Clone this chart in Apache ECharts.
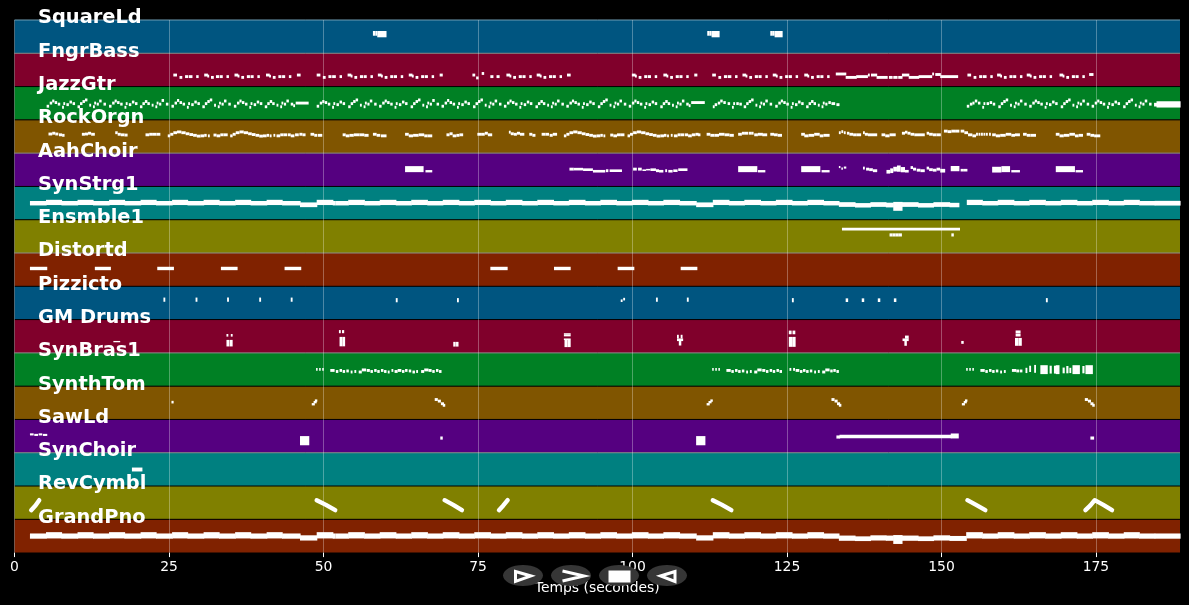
<!DOCTYPE html>
<html>
<head>
<meta charset="utf-8">
<style>html,body{margin:0;background:#000;}#chart{width:1189px;height:605px;}</style>
<script src="https://cdn.jsdelivr.net/npm/echarts@6/dist/echarts.min.js"></script>
</head>
<body>
<div id="chart"></div>
<script>
// piano roll: one note = [start (s), length (s), pitch (0-127 inside its row), thickness in pitch units (optional)]
const trackNames = ['SquareLd','FngrBass','JazzGtr','RockOrgn','AahChoir','SynStrg1','Ensmble1','Distortd','Pizzicto','GM Drums','SynBras1','SynthTom','SawLd','SynChoir','RevCymbl','GrandPno'];
const xTicks = [0,25,50,75,100,125,150,175];
const xMax = 188.6;

const squareLd = [[58,.3,76,18],[58.4,.2,76,18],[58.7,1.4,73,24],[112.1,.3,76,18],[112.5,.2,76,18],[112.8,1.2,73,24],[122.3,.2,76,18],[122.6,.3,76,18],[123,1.2,73,24]];

const fngrBass = [
[25.7,.5,44],[26.7,.35,35],[27.6,.4,38],[28.2,.5,38],[29.4,.3,38],
[30.7,.5,44],[31.2,.2,40],[31.8,.35,35],[32.6,.4,38],[33.2,.4,38],[34.3,.3,38],
[35.6,.5,44],[36.1,.2,40],[36.7,.35,35],[37.6,.4,38],[38.2,.4,38],[39.3,.3,38],
[40.7,.5,44],[41.2,.2,40],[41.8,.35,35],[42.7,.4,38],[43.3,.4,38],[44.4,.3,38],
[45.7,.5,44],
[48.9,.5,44],[49.9,.35,35],[50.8,.4,38],[51.4,.5,38],[52.6,.3,38],
[53.9,.5,44],[54.4,.2,40],[55,.35,35],[55.9,.4,38],[56.5,.4,38],[57.6,.3,38],
[58.8,.5,44],[59.3,.2,40],[59.9,.35,35],[60.8,.4,38],[61.4,.4,38],[62.5,.3,38],
[63.8,.5,44],[64.3,.2,40],[64.9,.35,35],[65.8,.4,38],[66.4,.4,38],[67.5,.3,38],
[68.8,.4,44],
[74.1,.35,44],[74.7,.3,33],[75.6,.3,50],[77,.4,38],[78,.4,38],
[79.6,.5,44],[80.1,.2,40],[80.7,.35,35],[81.6,.4,38],[82.2,.4,38],[83.3,.3,38],
[84.5,.5,44],[85,.2,40],[85.6,.35,35],[86.5,.4,38],[87.1,.4,38],[88.2,.3,38],
[89.4,.5,44],
[99.9,.5,44],[100.4,.2,40],[101,.35,35],[101.9,.4,38],[102.5,.4,38],[103.6,.3,38],
[105,.5,44],[105.5,.2,40],[106.1,.35,35],[107,.4,38],[107.6,.4,38],[108.7,.3,38],
[110,.4,44],
[112.9,.5,44],[113.9,.35,35],[114.8,.4,38],[115.4,.5,38],[116.6,.3,38],
[117.8,.5,44],[118.3,.2,40],[118.9,.35,35],[119.8,.4,38],[120.4,.4,38],[121.5,.3,38],
[122.7,.5,44],[123.2,.2,40],[123.8,.35,35],[124.7,.4,38],[125.3,.4,38],[126.4,.3,38],
[127.8,.5,44],[128.3,.2,40],[128.9,.35,35],[129.8,.4,38],[130.4,.4,38],[131.5,.3,38],
[132.9,1.6,48],[134.5,1.7,35],[136.2,1.8,38],[138.1,.2,44],[138.6,.9,44],[139.5,1.7,35],[141.5,.5,35],[142.2,.6,35],[143,.6,35],
[143.6,1.1,44],[144.7,1.6,35],[146.3,2.1,38],[148.5,.2,48],[149,.8,46],[149.8,2.8,38],
[154.2,.5,44],[155.2,.35,35],[156.1,.4,38],[156.7,.5,38],[157.9,.3,38],
[159,.5,44],[159.5,.2,40],[160.1,.35,35],[161,.4,38],[161.6,.4,38],[162.7,.3,38],
[163.8,.5,44],[164.3,.2,40],[164.9,.35,35],[165.8,.4,38],[166.4,.4,38],[167.5,.3,38],
[169.1,.5,44],[169.6,.2,40],[170.2,.35,35],[171.1,.4,38],[171.7,.4,38],[172.8,.3,38],
[173.9,.6,46]];

const jazzGtr = [
[5.2,.3,52],[5.7,.3,64],[6.1,.25,72],[6.5,.3,66],[7,.3,60],[7.7,.2,48],[7.9,.2,62],[8.4,.3,58],[8.9,.3,68],[9.4,.3,62],
[10.2,.3,50],[10.6,.3,62],[11,.3,70],[11.4,.3,76],[12.1,.2,56],[12.7,.2,50],[12.9,.2,64],[13.3,.25,60],[13.7,.3,72],[14.4,.3,60],
[15.3,.3,52],[15.8,.3,64],[16.2,.25,72],[16.6,.3,66],[17.1,.3,60],[17.8,.2,48],[18,.2,62],[18.5,.3,58],[19,.3,68],[19.5,.3,62],
[20.3,.3,50],[20.7,.3,62],[21.1,.3,70],[21.5,.3,62],[22.2,.2,56],[22.8,.2,50],[23,.2,64],[23.4,.25,60],[23.8,.3,74],[24.5,.3,60],
[25.4,.3,52],[25.9,.3,64],[26.3,.25,74],[26.7,.3,66],[27.2,.3,60],[27.9,.2,48],[28.1,.2,62],[28.6,.3,58],[29.1,.3,68],[29.6,.3,62],
[30.4,.3,50],[30.8,.3,62],[31.2,.3,70],[31.6,.3,76],[32.3,.2,56],[32.9,.2,50],[33.1,.2,64],[33.5,.25,60],[33.9,.3,72],[34.6,.3,60],
[35.5,.3,52],[36,.3,64],[36.4,.25,72],[36.8,.3,66],[37.3,.3,60],[38,.2,48],[38.2,.2,62],[38.7,.3,58],[39.2,.3,68],[39.7,.3,62],
[40.5,.3,50],[40.9,.3,62],[41.3,.3,70],[41.7,.3,62],[42.4,.2,56],[43,.2,50],[43.2,.2,64],[43.6,.25,60],[44,.3,72],[44.7,.3,60],[45.1,.2,54],[45.5,2,64],
[48.9,.3,52],[49.4,.3,64],[49.8,.25,70],[50.2,.3,66],[50.7,.3,60],[51.4,.2,48],[51.6,.2,62],[52.1,.3,58],[52.6,.3,68],[53.1,.3,62],
[54,.3,50],[54.4,.3,62],[54.8,.3,70],[55.2,.3,76],[55.9,.2,56],[56.5,.2,50],[56.7,.2,64],[57.1,.25,60],[57.5,.3,72],[58.2,.3,60],
[59,.3,52],[59.5,.3,64],[59.9,.25,72],[60.3,.3,66],[60.8,.3,60],[61.5,.2,48],[61.7,.2,62],[62.2,.3,58],[62.7,.3,68],[63.2,.3,62],
[64.1,.3,50],[64.5,.3,62],[64.9,.3,70],[65.3,.3,76],[66,.2,56],[66.6,.2,50],[66.8,.2,64],[67.2,.25,60],[67.6,.3,74],[68.3,.3,60],
[69.1,.3,52],[69.6,.3,64],[70,.25,74],[70.4,.3,66],[70.9,.3,60],[71.6,.2,48],[71.8,.2,62],[72.3,.3,58],[72.8,.3,68],[73.3,.3,62],
[74.2,.3,50],[74.6,.3,62],[75,.3,70],[75.4,.3,76],[76.1,.2,56],[76.7,.2,50],[76.9,.2,64],[77.3,.25,60],[77.7,.3,72],[78.4,.3,60],
[79.2,.3,52],[79.7,.3,64],[80.1,.25,72],[80.5,.3,66],[81,.3,60],[81.7,.2,48],[81.9,.2,62],[82.4,.3,58],[82.9,.3,68],[83.4,.3,62],
[84.3,.3,50],[84.7,.3,62],[85.1,.3,70],[85.5,.3,62],[86.2,.2,56],[86.8,.2,50],[87,.2,64],[87.4,.25,60],[87.8,.3,72],[88.5,.3,60],
[89.3,.3,52],[89.8,.3,64],[90.2,.25,72],[90.6,.3,66],[91.1,.3,60],[91.8,.2,48],[92,.2,62],[92.5,.3,58],[93,.3,68],[93.5,.3,62],
[94.4,.3,50],[94.8,.3,62],[95.2,.3,70],[95.6,.3,76],[96.3,.2,56],[96.9,.2,50],[97.1,.2,64],[97.5,.25,60],[97.9,.3,72],[98.6,.3,60],
[99.4,.3,52],[99.9,.3,64],[100.3,.25,72],[100.7,.3,66],[101.2,.3,60],[101.9,.2,48],[102.1,.2,62],[102.6,.3,58],[103.1,.3,68],[103.6,.3,62],
[104.5,.3,50],[104.9,.3,62],[105.3,.3,70],[105.7,.3,62],[106.4,.2,56],[107,.2,50],[107.2,.2,64],[107.6,.25,60],[108,.3,72],[108.7,.3,60],[109.1,.2,54],[109.5,2.1,66],
[113,.2,50],[113.3,.3,58],[113.8,.3,64],[114.2,.3,72],[114.7,.3,66],[115.4,.3,62],[116.1,.2,48],[116.3,.2,62],[116.8,.3,62],[117.3,.3,60],
[118,.3,50],[118.4,.3,62],[118.8,.3,70],[119.2,.3,76],[119.9,.2,56],[120.5,.2,50],[120.7,.2,64],[121.1,.25,60],[121.5,.3,72],[122.2,.3,60],
[123.1,.3,52],[123.6,.3,64],[124,.25,72],[124.4,.3,66],[124.9,.3,60],[125.6,.2,48],[125.8,.2,62],[126.3,.3,58],[126.8,.3,68],[127.3,.3,62],
[128.1,.3,50],[128.5,.3,62],[128.9,.3,70],[129.3,.3,62],[130,.2,56],[130.6,.2,50],[130.8,.2,64],[131.2,.25,60],[131.7,.3,66],[132.2,.5,62],[133,.4,58],
[154.1,.3,52],[154.6,.3,60],[155,.25,64],[155.4,.3,72],[155.9,.3,64],[156.6,.2,48],[156.8,.2,62],[157.3,.3,62],[157.8,.3,66],[158.3,.3,60],
[159.2,.3,50],[159.6,.3,62],[160,.3,70],[160.4,.3,76],[161.1,.2,56],[161.7,.2,50],[161.9,.2,64],[162.3,.25,60],[162.7,.3,72],[163.4,.3,60],
[164.2,.3,52],[164.7,.3,64],[165.1,.25,72],[165.5,.3,66],[166,.3,60],[166.7,.2,48],[166.9,.2,62],[167.4,.3,58],[167.9,.3,68],[168.4,.3,62],
[169.3,.3,50],[169.7,.3,62],[170.1,.3,70],[170.5,.3,76],[171.2,.2,56],[171.8,.2,50],[172,.2,64],[172.4,.25,60],[172.8,.3,72],[173.5,.3,60],
[174.3,.3,52],[174.8,.3,64],[175.2,.25,72],[175.6,.3,66],[176.1,.3,60],[176.8,.2,48],[177,.2,62],[177.5,.3,58],[178,.3,68],[178.5,.3,62],
[179.4,.3,50],[179.8,.3,62],[180.2,.3,70],[180.6,.3,76],[181.3,.2,56],[181.9,.2,50],[182.1,.2,64],[182.5,.25,60],[182.9,.3,72],[183.6,.3,60],
[184.4,.4,58,14],[184.8,3.8,59,24]];

const rockOrgn = [
[5.5,.5,73],[6.1,.4,76],[6.6,.4,73],[7.2,.4,70],[7.7,.3,68],[10.9,.4,72],[11.4,.4,73],[11.9,.4,76],[12.4,.5,72],
[16.3,.3,78],[16.7,.4,72],[17.2,.5,70],[17.8,.4,69],[21.2,.5,70],[21.8,.5,72],[22.4,.5,72],[23,.5,72],
[24.8,.3,66],[25.2,.4,72],[25.7,.5,78],[26.3,.6,81],[27,.6,78],[27.7,.5,74],[28.3,.5,71],[28.9,.5,68],[29.5,.5,65],[30.1,.5,66],[30.7,.3,68],[31.3,.2,66],
[32.2,.4,69],[32.7,.5,66],[33.3,.4,70],[33.8,.6,70],
[34.9,.3,66],[35.3,.4,72],[35.8,.5,78],[36.4,.6,81],[37.1,.6,78],[37.8,.5,74],[38.4,.5,71],[39,.5,68],[39.6,.5,65],[40.2,.5,66],[40.8,.3,68],[41.3,.2,66],
[41.9,.2,68],[42.4,.5,66],[43,.4,70],[43.5,.5,70],[44.2,.4,70],[44.7,.5,66],[45.4,.5,70],[46.1,.4,72],[46.6,.4,70],[47.9,.5,72],[48.5,.4,68],[49.1,.6,68],
[53.1,.4,70],[53.6,.5,66],[54.2,.6,68],[54.9,.8,70],[55.8,.7,70],[56.6,.6,68],[58,.5,72],[58.6,.5,68],[59.3,.8,66],
[63.2,.5,72],[63.8,.6,66],[64.5,.8,68],[65.4,.8,70],[66.3,.4,66],[66.8,.7,66],[69.9,.4,70],[70.4,.4,74],[70.9,.5,66],[71.5,.4,68],[72,.5,70],
[74.9,.5,72],[75.5,.5,72],[76.1,.4,76],[76.6,.6,70],[80,.2,80],[80.3,.4,74],[80.8,.4,72],[81.3,.4,76],[81.8,.6,72],[83.3,.4,72],[83.8,.4,68],
[85.3,.5,72],[85.9,.5,72],[86.6,.4,68],[87.1,.6,72],
[88.9,.3,66],[89.3,.4,72],[89.8,.5,78],[90.4,.6,81],[91.1,.6,78],[91.8,.5,74],[92.4,.5,71],[93,.5,68],[93.6,.5,65],[94.2,.5,66],[94.8,.3,68],[95.3,.2,66],
[96.4,.4,69],[96.9,.5,66],[97.5,.4,70],[98,.6,70],
[99.2,.3,66],[99.6,.4,72],[100.1,.5,78],[100.7,.6,81],[101.4,.6,78],[102.1,.5,74],[102.7,.5,71],[103.3,.5,68],[103.9,.5,65],[104.5,.5,66],[105.1,.3,68],[105.6,.2,66],
[106.2,.2,68],[106.7,.5,66],[107.3,.4,70],[107.8,.5,70],[108.5,.4,70],[109,.5,66],[109.6,.5,70],[110.2,.4,72],[110.6,.3,70],
[112,.5,72],[112.6,.6,68],[113.3,.6,68],[114,.8,72],[114.9,.7,70],[115.7,.6,68],
[117.1,.5,72],[117.7,.4,76],[118.2,.4,76],[118.8,.3,76],[119.2,.3,76],[119.7,.5,70],[120.3,.7,72],[121,.7,70],[122.3,.5,72],[122.9,.5,70],[123.5,.6,68],
[127.3,.5,72],[127.8,.6,66],[128.5,.8,68],[129.4,.8,72],[130.3,.5,66],[130.9,.9,68],
[133.4,.2,78],[133.8,.2,82],[134.2,.2,78],[134.7,.3,76],[135.1,.5,72],[135.7,.5,70],[136.3,.6,70],[137.3,.2,78],[137.6,.4,72],[138.1,.4,70],[138.6,.9,70],
[140.3,.5,70],[140.9,.6,66],[141.6,.9,70],[143.6,.4,76],[144.1,.3,80],[144.5,.4,76],[145,.5,72],[145.6,.5,70],[146.2,1,70],
[147.6,.3,76],[148,.5,72],[148.6,.5,70],[149.2,.6,70],
[150.4,.5,84],[151,.5,82],[151.6,.5,84],[152.2,.6,84],[153.1,.5,84],[153.7,.5,78],[154.3,.6,70],[155,.5,66],[155.6,.2,72],[156,.2,72],[156.4,.2,72],[156.8,.2,72],
[157.2,.2,72],[157.7,.2,72],[158.2,.5,70],[158.8,.6,66],[159.5,.8,68],[160.4,.8,72],[161.3,.5,68],[161.9,.7,70],
[163.2,.5,72],[163.8,.5,68],[164.4,.8,68],[168.5,.5,72],[169.1,.6,66],[169.8,.8,68],[170.7,.8,72],[171.6,.5,66],[172.2,.6,68],[173.5,.5,72],[174.1,.5,68],[174.7,.9,66]];

const aahChoir = [
[63.2,2.9,66,23],[66.5,1,58,9],
[89.8,.6,66],[90.5,1.4,66,10],[92,1.5,64,10],[93.6,1.9,58,10],[95.7,.3,60],[96.3,1.9,60,10],
[100.1,.5,66],[100.9,.5,66],[101.6,.5,62,6],[102.2,.6,64,6],[102.9,.8,64,10],[103.8,.4,60],[104.3,.6,58,10],[105.3,.2,60],[105.8,.6,58,10],[106.6,.6,60,10],[107.4,1.4,64,10],
[117.1,3,66,23],[120.3,1.1,58,9],
[127.3,3,66,23],[130.6,1.2,58,9],
[133.4,.15,74,8],[133.8,.15,68,8],[134.2,.3,72,8],[137.3,.2,70],[137.8,.4,66],[138.3,.5,64],[138.9,.6,60],
[141.1,.5,56,14],[141.7,.4,60,18],[142.2,.5,66,18],[142.8,.5,68,24],[143.4,.6,64,20],[144.1,.5,58,10],[145,.3,72],[145.4,.4,66],[146,.5,62],[146.6,.6,60],
[147.6,.3,70],[148,.5,64],[148.6,.5,62],[149.2,.5,66],[149.8,.7,60,14],
[151.5,1.3,68,20],[153.1,.3,62,10],[153.5,.6,62,10],
[158.2,1.4,64,22],[159.7,1.3,66,23],[161.3,1.3,58,9],
[168.5,3,66,23],[171.7,1.1,58,9]];

// same phrase heights for strings and piano, read row-relative
const synStrg1 = [
[2.5,2.6,63,17],[5.1,2.5,66,20],[7.6,2.6,63,17],[10.2,2.5,66,20],[12.7,2.6,63,17],[15.3,2.5,66,20],[17.8,2.6,63,17],[20.4,2.5,66,20],[22.9,2.6,63,17],[25.5,2.5,66,20],[28,2.6,63,17],[30.6,2.5,66,20],[33.1,2.6,63,17],[35.7,2.5,66,20],[38.2,2.6,63,17],[40.8,2.5,66,20],[43.3,2.9,63,17],
[46.2,2.7,57,18],[48.9,2.6,66,20],[51.5,.4,63,17],[52,2,63,17],[54,2.6,66,20],[56.6,2.5,63,17],[59.1,2.6,66,20],[61.7,2.5,63,17],[64.2,2.6,66,20],[66.8,2.5,63,17],[69.3,2.6,66,20],[71.9,2.5,63,17],[74.4,2.6,66,20],[77,2.5,63,17],[79.5,2.6,66,20],[82.1,2.5,63,17],[84.6,2.6,66,20],[87.2,2.5,63,17],[89.7,2.6,66,20],[92.3,2.5,63,17],[94.8,2.6,66,20],[97.4,2.5,63,17],[99.9,2.6,66,20],[102.5,2.5,63,17],[105,2.6,66,20],[107.6,2.7,63,17],
[110.3,2.7,57,18],[113,2.6,66,20],[115.6,2.5,63,17],[118.1,2.6,66,20],[120.7,2.5,63,17],[123.2,2.6,66,20],[125.8,2.5,63,17],[128.3,2.6,66,20],[130.9,2.5,63,17],
[133.4,2.6,58,18],[136,2.5,55,17],[138.5,2.5,58,18],[141,1.2,56,18],[142.2,1.4,51,34],[143.6,2.6,58,18],[146.2,2.5,55,17],[148.7,2.6,58,18],[151.3,1.5,56,17],
[154.1,2.5,66,20],[156.6,2.5,63,17],[159.1,2.6,66,20],[161.7,2.5,63,17],[164.2,2.6,66,20],[166.8,2.5,63,17],[169.3,2.6,66,20],[171.9,2.5,63,17],[174.4,2.6,66,20],[177,2.5,63,17],[179.5,2.5,66,20],[182,2.5,63,17],[184.5,4.1,63,18]];

const ensmble1 = [[133.9,19,91,11],[141.6,.4,69,12],[142.1,.4,69,12],[142.6,.4,69,12],[143.1,.4,69,12],[151.6,.3,69,12]];

const distortd = [[2.5,2.7,68,13],[13,2.5,68,13],[23.1,2.6,68,13],[33.4,2.6,68,13],[43.7,2.6,68,13],[77,2.7,68,13],[87.3,2.6,68,13],[97.6,2.6,68,13],[107.8,2.6,68,13]];

const pizzicto = [[24.1,.2,76,16],[29.3,.2,76,16],[34.4,.2,76,16],[39.6,.2,76,16],[44.7,.2,76,16],[61.7,.2,74,16],[71.6,.2,74,16],[98.1,.2,72,10],[98.5,.2,78,10],[103.8,.2,76,16],[108.8,.2,76,16],[125.8,.2,74,16],[134.5,.3,74,14],[137.1,.3,74,14],[139.7,.3,74,14],[142.3,.3,74,14],[166.9,.2,74,16]];

const gmDrums = [
[16,1,43,5],
[34.3,.2,67,10],[35,.2,67,10],[34.3,.35,37,25],[34.8,.4,37,25],
[52.5,.2,81,12],[53,.25,81,12],[52.6,.35,43,36],[53.05,.35,43,36],
[71,.3,33,18],[71.45,.3,33,18],
[88.9,1,72,6],[88.9,1,66,6],[88.9,1,52,6],[89,.4,36,28],[89.5,.4,36,28],
[107.2,.2,62,14],[107.8,.2,62,14],[107.2,.9,50,10],[107.5,.3,38,20],
[125.3,.35,78,14],[125.9,.35,78,14],[125.3,.45,42,38],[125.85,.45,42,38],
[144.1,.5,60,12],[143.7,.9,50,10],[144,.3,38,22],
[153.2,.3,40,11],
[162,.7,80,11],[162,.7,68,11],[161.9,.45,42,30],[162.45,.45,42,30]];

const synBras1 = [
[48.8,.15,64],[49.3,.15,64],[49.8,.15,64],[51.1,.6,60],[52,.3,56],[52.6,.3,60],[53.1,.3,56],[53.7,.3,58],[54.4,.2,54],[55,.2,56],[55.7,.4,54],[56.2,.6,62],[57,.4,60],[57.6,.3,56],[58.2,.3,60],[58.7,.3,56],[59.3,.3,60],[59.8,.3,56],[60.4,.2,54],[61,.2,60],[61.5,.4,56],[62,.5,60],[62.7,.3,56],[63.2,.3,60],[63.8,.3,58],[64.4,.3,54],[65,.2,56],[65.8,.4,56],[66.3,.6,62],[67,.4,60],[67.6,.3,56],[68.2,.3,60],[68.7,.3,56],
[112.9,.15,64],[113.4,.15,64],[113.9,.15,64],[115.2,.6,60],[116,.3,56],[116.6,.3,60],[117.1,.3,56],[117.7,.3,58],[118.4,.2,54],[119,.2,56],[119.7,.4,54],[120.2,.6,62],[121,.4,60],[121.6,.3,56],[122.2,.3,60],[122.7,.3,56],[123.3,.3,60],[123.8,.3,56],[125.4,.2,64],[126,.2,64],[126.4,.5,60],[127.1,.3,56],[127.6,.3,60],[128.1,.3,56],[128.7,.3,58],[129.4,.2,54],[130,.2,56],[130.7,.4,54],[131.2,.6,62],[132,.3,58],[132.5,.3,60],[133,.3,56],
[154,.15,64],[154.5,.15,64],[155,.15,64],[156.3,.6,60],[157.1,.3,56],[157.7,.3,60],[158.2,.3,56],[158.8,.3,58],[159.5,.2,54],[160.1,.2,56],[161.4,.6,60],[162.1,.4,58],[162.7,.3,58],
[163.6,.2,60,20],[164.2,.2,66,24],[165,.2,66,30],[166,1.1,63,34],[167.5,.25,63,30],[168.2,.25,63,30],[168.5,.5,63,34],[169.6,.25,60,22],[170.2,.25,63,28],[170.7,.2,60,20],[171.2,1.1,63,34],[172.8,.25,63,28],[173.3,1.1,63,34]];

const synthTom = [
[25.4,.25,66,10],[48.1,.4,58,9],[48.4,.4,66,9],[48.6,.3,72,9],
[68,.4,76],[68.5,.4,70],[69,.4,60],[69.3,.3,54],
[112,.4,58,9],[112.3,.4,66,9],[112.6,.3,72,9],
[132.2,.4,76],[132.7,.4,70],[133.1,.4,60],[133.4,.3,54],
[153.3,.4,58,9],[153.6,.4,66,9],[153.8,.3,72,9],
[173.2,.4,76],[173.7,.4,70],[174.1,.4,60],[174.4,.3,54]];

const sawLd = [[2.5,.5,70,8],[3.2,.5,68,8],[3.9,.5,70,8],[4.6,.6,68,8],[46.2,1.4,46,35],[68.9,.3,56,12],[110.3,1.4,46,35],[133,.5,60,12],[133.5,18,62,14],[151.5,1.2,64,19],[174.1,.5,56,12]];

const synChoir = [[19,1.6,63,15]];

const revCymblStrokes = [
[[2.7,35],[3.4,53],[4,73]],
[[48.9,73],[50.4,55],[51.9,35]],
[[69.6,73],[71,55],[72.4,35]],
[[78.4,35],[79.1,53],[79.8,73]],
[[113,73],[114.5,55],[116,35]],
[[154.2,73],[155.6,55],[157.1,35]],
[[173.3,35],[174.1,53],[174.8,73],[176.2,55],[177.6,35]]];

const grandPno = [
[2.5,2.6,63,20],[5.1,2.5,66,24],[7.6,2.6,63,20],[10.2,2.5,66,24],[12.7,2.6,63,20],[15.3,2.5,66,24],[17.8,2.6,63,20],[20.4,2.5,66,24],[22.9,2.6,63,20],[25.5,2.5,66,24],[28,2.6,63,20],[30.6,2.5,66,24],[33.1,2.6,63,20],[35.7,2.5,66,24],[38.2,2.6,63,20],[40.8,2.5,66,24],[43.3,2.9,63,20],
[46.2,2.7,56,20],[48.9,2.6,66,24],[51.5,.4,63,20],[52,2,63,20],[54,2.6,66,24],[56.6,2.5,63,20],[59.1,2.6,66,24],[61.7,2.5,63,20],[64.2,2.6,66,24],[66.8,2.5,63,20],[69.3,2.6,66,24],[71.9,2.5,63,20],[74.4,2.6,66,24],[77,2.5,63,20],[79.5,2.6,66,24],[82.1,2.5,63,20],[84.6,2.6,66,24],[87.2,2.5,63,20],[89.7,2.6,66,24],[92.3,2.5,63,20],[94.8,2.6,66,24],[97.4,2.5,63,20],[99.9,2.6,66,24],[102.5,2.5,63,20],[105,2.6,66,24],[107.6,2.7,63,20],
[110.3,2.7,56,20],[113,2.6,66,24],[115.6,2.5,63,20],[118.1,2.6,66,24],[120.7,2.5,63,20],[123.2,2.6,66,24],[125.8,2.5,63,20],[128.3,2.6,66,24],[130.9,2.5,63,20],
[133.4,2.6,55,20],[136,2.5,53,18],[138.5,2.5,56,20],[141,1.2,55,20],[142.2,1.4,50,34],[143.6,2.6,55,20],[146.2,2.5,53,18],[148.7,2.6,56,20],[151.3,2.7,54,19],
[154,2.6,66,24],[156.6,2.5,63,20],[159.1,2.6,66,24],[161.7,2.5,63,20],[164.2,2.6,66,24],[166.8,2.5,63,20],[169.3,2.6,66,24],[171.9,2.5,63,20],[174.4,2.6,66,24],[177,2.5,63,20],[179.5,2.5,66,24],[182,2.5,63,20],[184.5,4.1,63,20]];

const trackNotes = [squareLd,fngrBass,jazzGtr,rockOrgn,aahChoir,synStrg1,ensmble1,distortd,pizzicto,gmDrums,synBras1,synthTom,sawLd,synChoir,[],grandPno];

const bandColors = ['#005580','#80002b','#008024','#805500','#550080','#008080','#808000','#802200'];
const rowCount = trackNames.length;
const pitchRange = 127;
const defaultThick = 11;
const lengthPad = 0.1;
const font = '"DejaVu Sans"';

const rowBase = i => rowCount - 1 - i;
const revRow = trackNames.indexOf('RevCymbl');

const noteData = [];
trackNotes.forEach((notes, i) => {
  notes.forEach(n => {
    const th = n[3] || defaultThick;
    noteData.push([n[0], n[0] + n[1] + lengthPad, rowBase(i) + (n[2] - th / 2) / pitchRange, rowBase(i) + (n[2] + th / 2) / pitchRange]);
  });
});

function renderBand(params, api) {
  const i = api.value(0);
  const p0 = api.coord([0, rowBase(i) + 1]);
  const p1 = api.coord([xMax, rowBase(i)]);
  // every third row edge shows grey, the others black
  const edge = i === 0 ? '#6f9db3' : (i % 3 === 1 ? '#8c8c8c' : '#000');
  return {
    type: 'group',
    children: [
      { type: 'rect', shape: { x: p0[0], y: p0[1], width: p1[0] - p0[0], height: p1[1] - p0[1] }, style: { fill: bandColors[i % bandColors.length] } },
      { type: 'line', shape: { x1: p0[0], y1: p0[1], x2: p1[0], y2: p0[1] }, style: { stroke: edge, lineWidth: 1 } }
    ]
  };
}

function renderNote(params, api) {
  const a = api.coord([api.value(0), api.value(3)]);
  const b = api.coord([api.value(1), api.value(2)]);
  return { type: 'rect', shape: { x: a[0], y: a[1], width: b[0] - a[0], height: b[1] - a[1] }, style: { fill: '#fff' } };
}

function renderName(params, api) {
  const i = api.value(0);
  const p = api.coord([3.8, rowBase(i) + 1.05]);
  return { type: 'text', style: { x: p[0], y: p[1], text: trackNames[i], fill: '#fff', font: 'bold 19.4px ' + font, align: 'left', verticalAlign: 'middle' } };
}

const strokeSeries = revCymblStrokes.map(s => ({
  type: 'line', z: 3, silent: true, symbol: 'none', animation: false,
  data: s.map(d => [d[0], rowBase(revRow) + d[1] / pitchRange]),
  lineStyle: { color: '#fff', width: 4.4, cap: 'round', join: 'round' }
}));

// toolbar pills sit on top of the axis title
const pillCenters = [523, 571, 619, 667];
const pills = pillCenters.map(cx => ({ type: 'ellipse', z: 100, shape: { cx, cy: 575.5, rx: 20, ry: 10.5 }, style: { fill: '#363636' } }));
const glyphStyle = { fill: 'none', stroke: '#fff', lineWidth: 3 };
const glyphs = [
  { type: 'polygon', z: 101, shape: { points: [[515.5, 571.5], [531, 576], [515.5, 581.5]] }, style: glyphStyle },
  { type: 'polyline', z: 101, shape: { points: [[562.5, 571], [584, 576], [562.5, 581]] }, style: glyphStyle },
  { type: 'rect', z: 101, shape: { x: 608.5, y: 570.5, width: 22, height: 12 }, style: { fill: '#fff' } },
  { type: 'polygon', z: 101, shape: { points: [[675, 571.5], [660.5, 576], [675, 581.5]] }, style: glyphStyle }
];

const chart = echarts.init(document.getElementById('chart'), null, { renderer: 'canvas' });
chart.setOption({
  animation: false,
  backgroundColor: '#000',
  grid: { left: 14.5, right: 9, top: 20, bottom: 52.4 },
  xAxis: {
    type: 'value', min: 0, max: xMax, interval: 25,
    name: 'Temps (secondes)', nameLocation: 'middle', nameGap: 28.5,
    nameTextStyle: { color: '#fff', fontSize: 13.9, fontFamily: font },
    axisLine: { show: false },
    axisTick: { show: true, length: 4.5, customValues: xTicks, lineStyle: { color: '#fff', width: 1 } },
    axisLabel: { color: '#fff', fontSize: 13.9, fontFamily: font, margin: 8, customValues: xTicks },
    splitLine: { show: true, lineStyle: { color: 'rgba(255,255,255,0.3)', width: 1 } }
  },
  yAxis: { type: 'value', min: 0, max: rowCount, show: false },
  series: [
    { type: 'custom', z: -1, silent: true, renderItem: renderBand, data: trackNames.map((n, i) => [i]), encode: { x: -1, y: -1 } },
    { type: 'custom', z: 2, silent: true, renderItem: renderNote, data: noteData, encode: { x: [0, 1], y: [2, 3] } },
    ...strokeSeries,
    { type: 'custom', z: 10, silent: true, renderItem: renderName, data: trackNames.map((n, i) => [i]), encode: { x: -1, y: -1 } }
  ],
  graphic: { elements: [...pills, ...glyphs] }
});
</script>
</body>
</html>
